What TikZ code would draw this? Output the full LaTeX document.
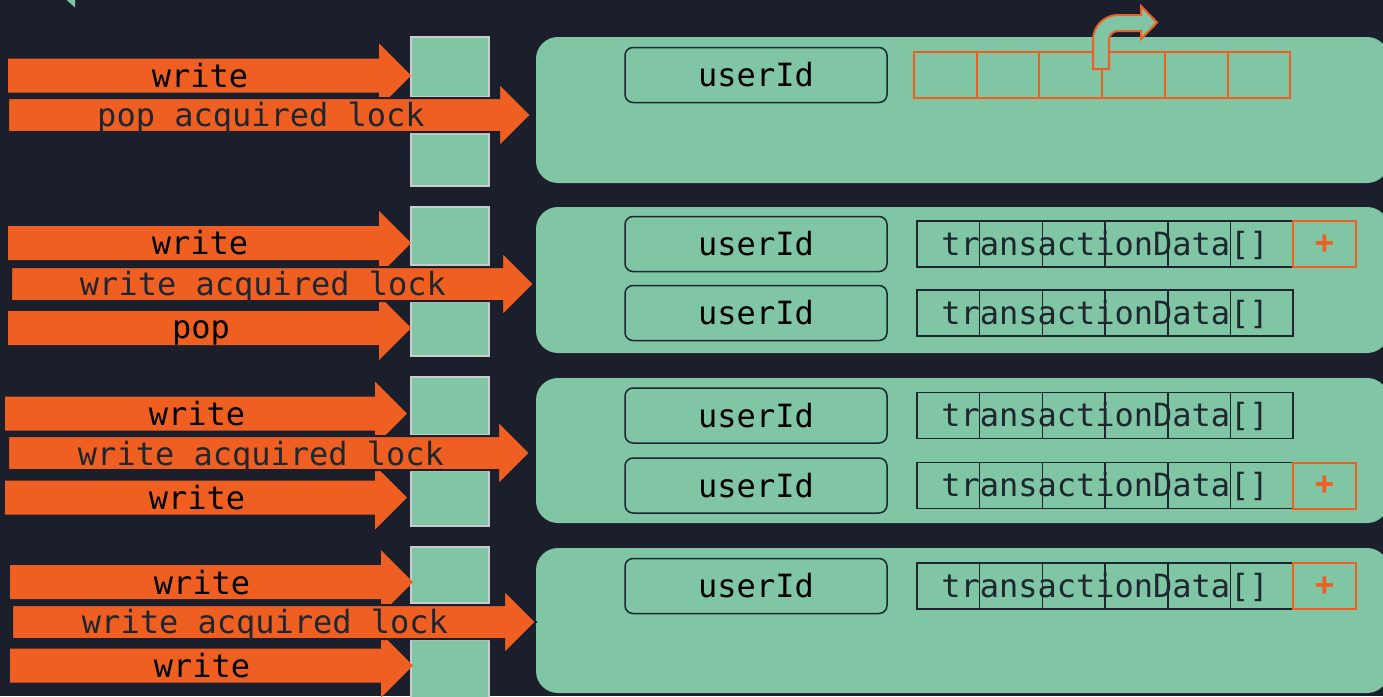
\documentclass[tikz,border=0pt]{standalone}
\usepackage{fontspec}
\setmonofont{DejaVu Sans Mono}
\definecolor{bg}{HTML}{1B1F2B}
\definecolor{mint}{HTML}{80C6A5}
\definecolor{flame}{HTML}{F05F22}
\definecolor{ink}{HTML}{1E2630}
\definecolor{rim}{HTML}{C8CCCE}
\newcommand\codefont{\ttfamily\fontsize{32}{38}\selectfont}

% block arrow: #1 tail x, #2 tip x, #3 centre y, #4 extra style
\newcommand\lanearrow[4]{%
  \path[lane,#4] (#1,#3-17) -- (#2-32,#3-17) -- (#2-32,#3-32) -- (#2,#3)
    -- (#2-32,#3+32) -- (#2-32,#3+17) -- (#1,#3+17) -- cycle;}

% row of equal cells: #1 left x, #2 centre y, #3 count, #4 style
\newcommand\cellrow[4]{%
  \foreach \k in {1,...,#3}
    \draw[#4] ({#1+62.7*(\k-1)},#2-23) rectangle ++(62.7,46);}

% one record: #1 name, #2 centre y
\newcommand\record[2]{%
  \node[idbox] (#1-id) at (756,#2) {userId};
  \node[word,text=ink] (#1-data) at (1105,#2+11) {transactionData[]};
  \cellrow{917}{#2}{6}{cell}}

% "+" slot next to a record: #1 name, #2 centre y
\newcommand\addslot[2]{%
  \draw[slot] (1293,#2-23) rectangle (1356,#2+23);
  \node[plus] (#1-plus) at (1324.5,#2) {+};}

\begin{document}
\begin{tikzpicture}[x=1pt,y=-1pt,
  lane/.style={fill=flame},
  through/.style={draw=bg,line width=2pt},
  panel/.style={fill=mint,rounded corners=22pt},
  lock/.style={fill=mint,draw=rim,line width=1.5pt},
  idbox/.style={draw=ink,line width=1.5pt,rounded corners=8pt,
    minimum width=262pt,minimum height=55pt,inner sep=0pt,
    font=\codefont,text=black},
  word/.style={font=\codefont,inner sep=0pt,anchor=base},
  cell/.style={draw=ink,line width=1.5pt},
  slot/.style={draw=flame,line width=2pt},
  plus/.style={font=\ttfamily\bfseries\fontsize{32}{38}\selectfont,
    text=flame,inner sep=0pt},
  turn/.style={fill=mint,draw=flame,line width=2pt,line join=miter}]

\useasboundingbox (0,0) rectangle (1383,696);
\fill[bg] (0,0) rectangle (1383,696);
\clip (0,0) rectangle (1383,696);

\fill[mint] (66.7,0) -- (75,0) -- (75,7.5) -- cycle;

% ---------------- queue 1 ----------------
\fill[panel] (536,37) rectangle (1389,183);
\node[idbox] (g1-id) at (756,75) {userId};
\cellrow{914}{75}{6}{slot}
\draw[turn] (1093,69) -- (1093,40)
  .. controls (1093,26.2) and (1104.2,15) .. (1118,15)
  -- (1141,15) -- (1141,6) -- (1157,22.5) -- (1141,39) -- (1141,31)
  -- (1118,31) .. controls (1113,31) and (1109,35) .. (1109,40)
  -- (1109,69) -- cycle;
\draw[lock] (411,37) rectangle (489,97);
\draw[lock] (411,134) rectangle (489,186);
\lanearrow{8}{411}{75.5}{}
\node[word,text=black] (g1-a) at (200,87) {write};
\lanearrow{8}{531}{115}{through}
\node[word,text=ink] (g1-b) at (261,126.5) {pop acquired lock};

% ---------------- queue 2 ----------------
\fill[panel] (536,207) rectangle (1389,353);
\record{g2r1}{244}
\addslot{g2r1}{244}
\record{g2r2}{313}
\draw[lock] (411,207) rectangle (489,265);
\draw[lock] (411,302) rectangle (489,356);
\lanearrow{8}{411}{243}{}
\node[word,text=black] (g2-a) at (200,254) {write};
\lanearrow{8}{411}{328}{}
\node[word,text=black] (g2-c) at (201,338.5) {pop};
\lanearrow{11}{534}{284}{through}
\node[word,text=ink] (g2-b) at (263,295) {write acquired lock};

% ---------------- queue 3 ----------------
\fill[panel] (536,378) rectangle (1389,523);
\record{g3r1}{415.5}
\record{g3r2}{485.5}
\addslot{g3r2}{485.5}
\draw[lock] (411,377) rectangle (489,435);
\draw[lock] (411,471) rectangle (489,526);
\lanearrow{5}{407}{413.5}{}
\node[word,text=black] (g3-a) at (197,425) {write};
\lanearrow{5}{407}{497.5}{}
\node[word,text=black] (g3-c) at (197,509) {write};
\lanearrow{8}{530}{453}{through}
\node[word,text=ink] (g3-b) at (261,465) {write acquired lock};

% ---------------- queue 4 ----------------
\fill[panel] (536,548) rectangle (1389,693);
\record{g4r1}{586}
\addslot{g4r1}{586}
\draw[lock] (411,547) rectangle (489,603);
\draw[lock] (411,640) rectangle (489,700);
\lanearrow{10}{413}{582}{}
\node[word,text=black] (g4-a) at (202,594) {write};
\lanearrow{10}{413}{665.5}{}
\node[word,text=black] (g4-c) at (202,677) {write};
\lanearrow{12}{536}{622}{through}
\node[word,text=ink] (g4-b) at (265,633) {write acquired lock};

\end{tikzpicture}
\end{document}
